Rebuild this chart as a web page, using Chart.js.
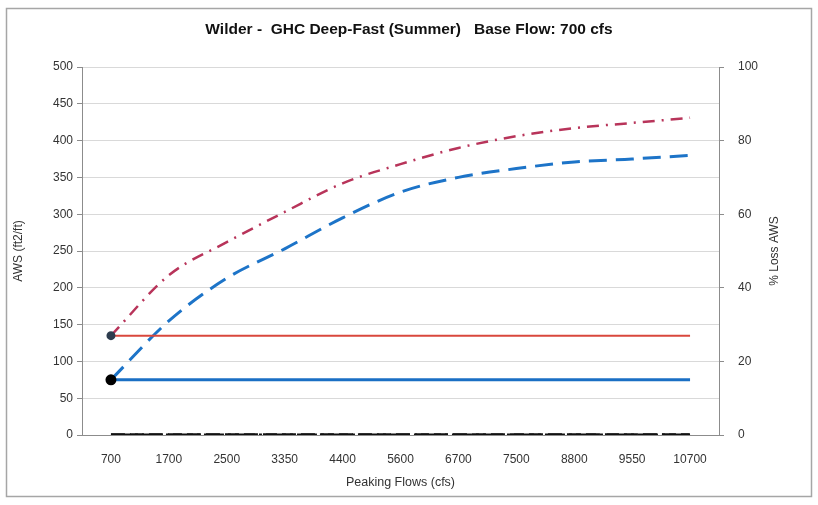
<!DOCTYPE html>
<html>
<head>
<meta charset="utf-8">
<script src="https://cdn.jsdelivr.net/npm/chart.js@4.4.1/dist/chart.umd.min.js"></script>
<style>
  body { margin: 0; background: #fff; overflow: hidden; }
  #wrap { width: 818px; height: 505px; position: relative; }
</style>
</head>
<body>
<div id="wrap"><canvas id="awsChart"></canvas></div>
<script>
// fluxos de pico (cfs)
const peakFlows = ['700', '1700', '2500', '3350', '4400', '5600', '6700', '7500', '8800', '9550', '10700'];

// AWS (ft2/ft)
const awsRedCurve = [135, 217, 262, 303, 342, 368, 390, 406, 417, 424, 431];
const awsBlueCurve = [75, 155, 213, 253, 295, 330, 350, 362, 371, 375, 380];
const awsRedBase = [135, 135, 135, 135, 135, 135, 135, 135, 135, 135, 135];
const awsBlueBase = [75, 75, 75, 75, 75, 75, 75, 75, 75, 75, 75];

// % perda AWS (eixo direito)
const lossA = [0, 0, 0, 0, 0, 0, 0, 0, 0, 0, 0];
const lossB = [0, 0, 0, 0, 0, 0, 0, 0, 0, 0, 0];

const fontFam = "'Liberation Sans', Arial, sans-serif";

// moldura + fundo branco
const framePlugin = {
    id: 'frame',
    beforeDraw(chart) {
        const ctx = chart.ctx;
        ctx.save();
        ctx.fillStyle = '#fff';
        ctx.fillRect(0, 0, chart.width, chart.height);
        ctx.strokeStyle = '#a6a6a6';
        ctx.lineWidth = 1.5;
        ctx.strokeRect(6.5, 8.5, 805, 488);
        ctx.restore();
    },
    afterDraw(chart) {
        // titulo do eixo direito, rodado como no Excel
        const ctx = chart.ctx;
        const area = chart.chartArea;
        ctx.save();
        ctx.translate(775, (area.top + area.bottom) / 2);
        ctx.rotate(-Math.PI / 2);
        ctx.font = '12px ' + fontFam;
        ctx.fillStyle = '#333';
        ctx.textAlign = 'center';
        ctx.textBaseline = 'middle';
        ctx.fillText('% Loss AWS', 0, 0);
        ctx.restore();
    }
};

const ctx = document.getElementById('awsChart').getContext('2d');
new Chart(ctx, {
    type: 'line',
    data: {
        labels: peakFlows,
        datasets: [
            {
                label: 'Loss A',
                data: lossA,
                yAxisID: 'y1',
                borderColor: '#111',
                borderWidth: 3.5,
                borderDash: [14, 5],
                pointRadius: 0,
                fill: false
            },
            {
                label: 'Loss B',
                data: lossB,
                yAxisID: 'y1',
                borderColor: '#111',
                borderWidth: 3,
                borderDash: [20, 4, 3, 4],
                pointRadius: 0,
                fill: false
            },
            {
                label: 'AWS red base',
                data: awsRedBase,
                yAxisID: 'y',
                borderColor: '#d9473c',
                borderWidth: 2,
                pointRadius: awsRedBase.map((v, i) => i === 0 ? 3.5 : 0),
                pointBackgroundColor: '#2e3d4f',
                pointBorderColor: '#2e3d4f',
                fill: false
            },
            {
                label: 'AWS blue base',
                data: awsBlueBase,
                yAxisID: 'y',
                borderColor: '#1a6fc4',
                borderWidth: 3,
                pointRadius: awsBlueBase.map((v, i) => i === 0 ? 4 : 0),
                pointBackgroundColor: '#000',
                pointBorderColor: '#000',
                fill: false
            },
            {
                label: 'AWS red',
                data: awsRedCurve,
                yAxisID: 'y',
                borderColor: '#b8345a',
                borderWidth: 2.5,
                borderDash: [12, 7, 2, 7],
                tension: 0.4,
                cubicInterpolationMode: 'monotone',
                pointRadius: 0,
                fill: false
            },
            {
                label: 'AWS blue',
                data: awsBlueCurve,
                yAxisID: 'y',
                borderColor: '#1d74c8',
                borderWidth: 3,
                borderDash: [18, 9],
                tension: 0.4,
                cubicInterpolationMode: 'monotone',
                pointRadius: 0,
                fill: false
            }
        ]
    },
    options: {
        responsive: true,
        maintainAspectRatio: false,
        animation: false,
        layout: { padding: 0 },
        plugins: {
            legend: { display: false },
            tooltip: { enabled: false },
            title: {
                display: true,
                text: 'Wilder -  GHC Deep-Fast (Summer)   Base Flow: 700 cfs',
                color: '#111',
                font: { family: fontFam, size: 15.5, weight: 'bold', lineHeight: 1.2 },
                padding: { top: 20, bottom: 28.4 }
            }
        },
        scales: {
            x: {
                offset: true,
                grid: { display: false },
                border: { display: true, color: '#8c8c8c' },
                ticks: {
                    color: '#333',
                    font: { family: fontFam, size: 12 },
                    padding: 9,
                    maxRotation: 0,
                    autoSkip: false
                },
                title: {
                    display: true,
                    text: 'Peaking Flows (cfs)',
                    color: '#333',
                    font: { family: fontFam, size: 12.5, lineHeight: 1.2 },
                    padding: { top: 0, bottom: 14.5 }
                },
                afterFit: function(scale) { scale.height = 70; }
            },
            y: {
                position: 'left',
                min: 0,
                max: 500,
                ticks: {
                    stepSize: 50,
                    color: '#333',
                    font: { family: fontFam, size: 12 },
                    padding: 4
                },
                grid: {
                    color: '#d9d9d9',
                    tickColor: '#8c8c8c',
                    tickLength: 5
                },
                border: { display: true, color: '#8c8c8c' },
                title: {
                    display: true,
                    text: 'AWS (ft2/ft)',
                    color: '#333',
                    font: { family: fontFam, size: 12, lineHeight: 1.2 },
                    padding: { top: 11, bottom: 0 }
                },
                afterFit: function(scale) { scale.width = 82; }
            },
            y1: {
                position: 'right',
                min: 0,
                max: 100,
                ticks: {
                    stepSize: 20,
                    color: '#333',
                    font: { family: fontFam, size: 12 },
                    padding: 14
                },
                grid: {
                    drawOnChartArea: false,
                    tickColor: '#8c8c8c',
                    tickLength: 5
                },
                border: { display: true, color: '#8c8c8c' },
                afterFit: function(scale) { scale.width = 99; }
            }
        }
    },
    plugins: [framePlugin]
});
</script>
</body>
</html>
